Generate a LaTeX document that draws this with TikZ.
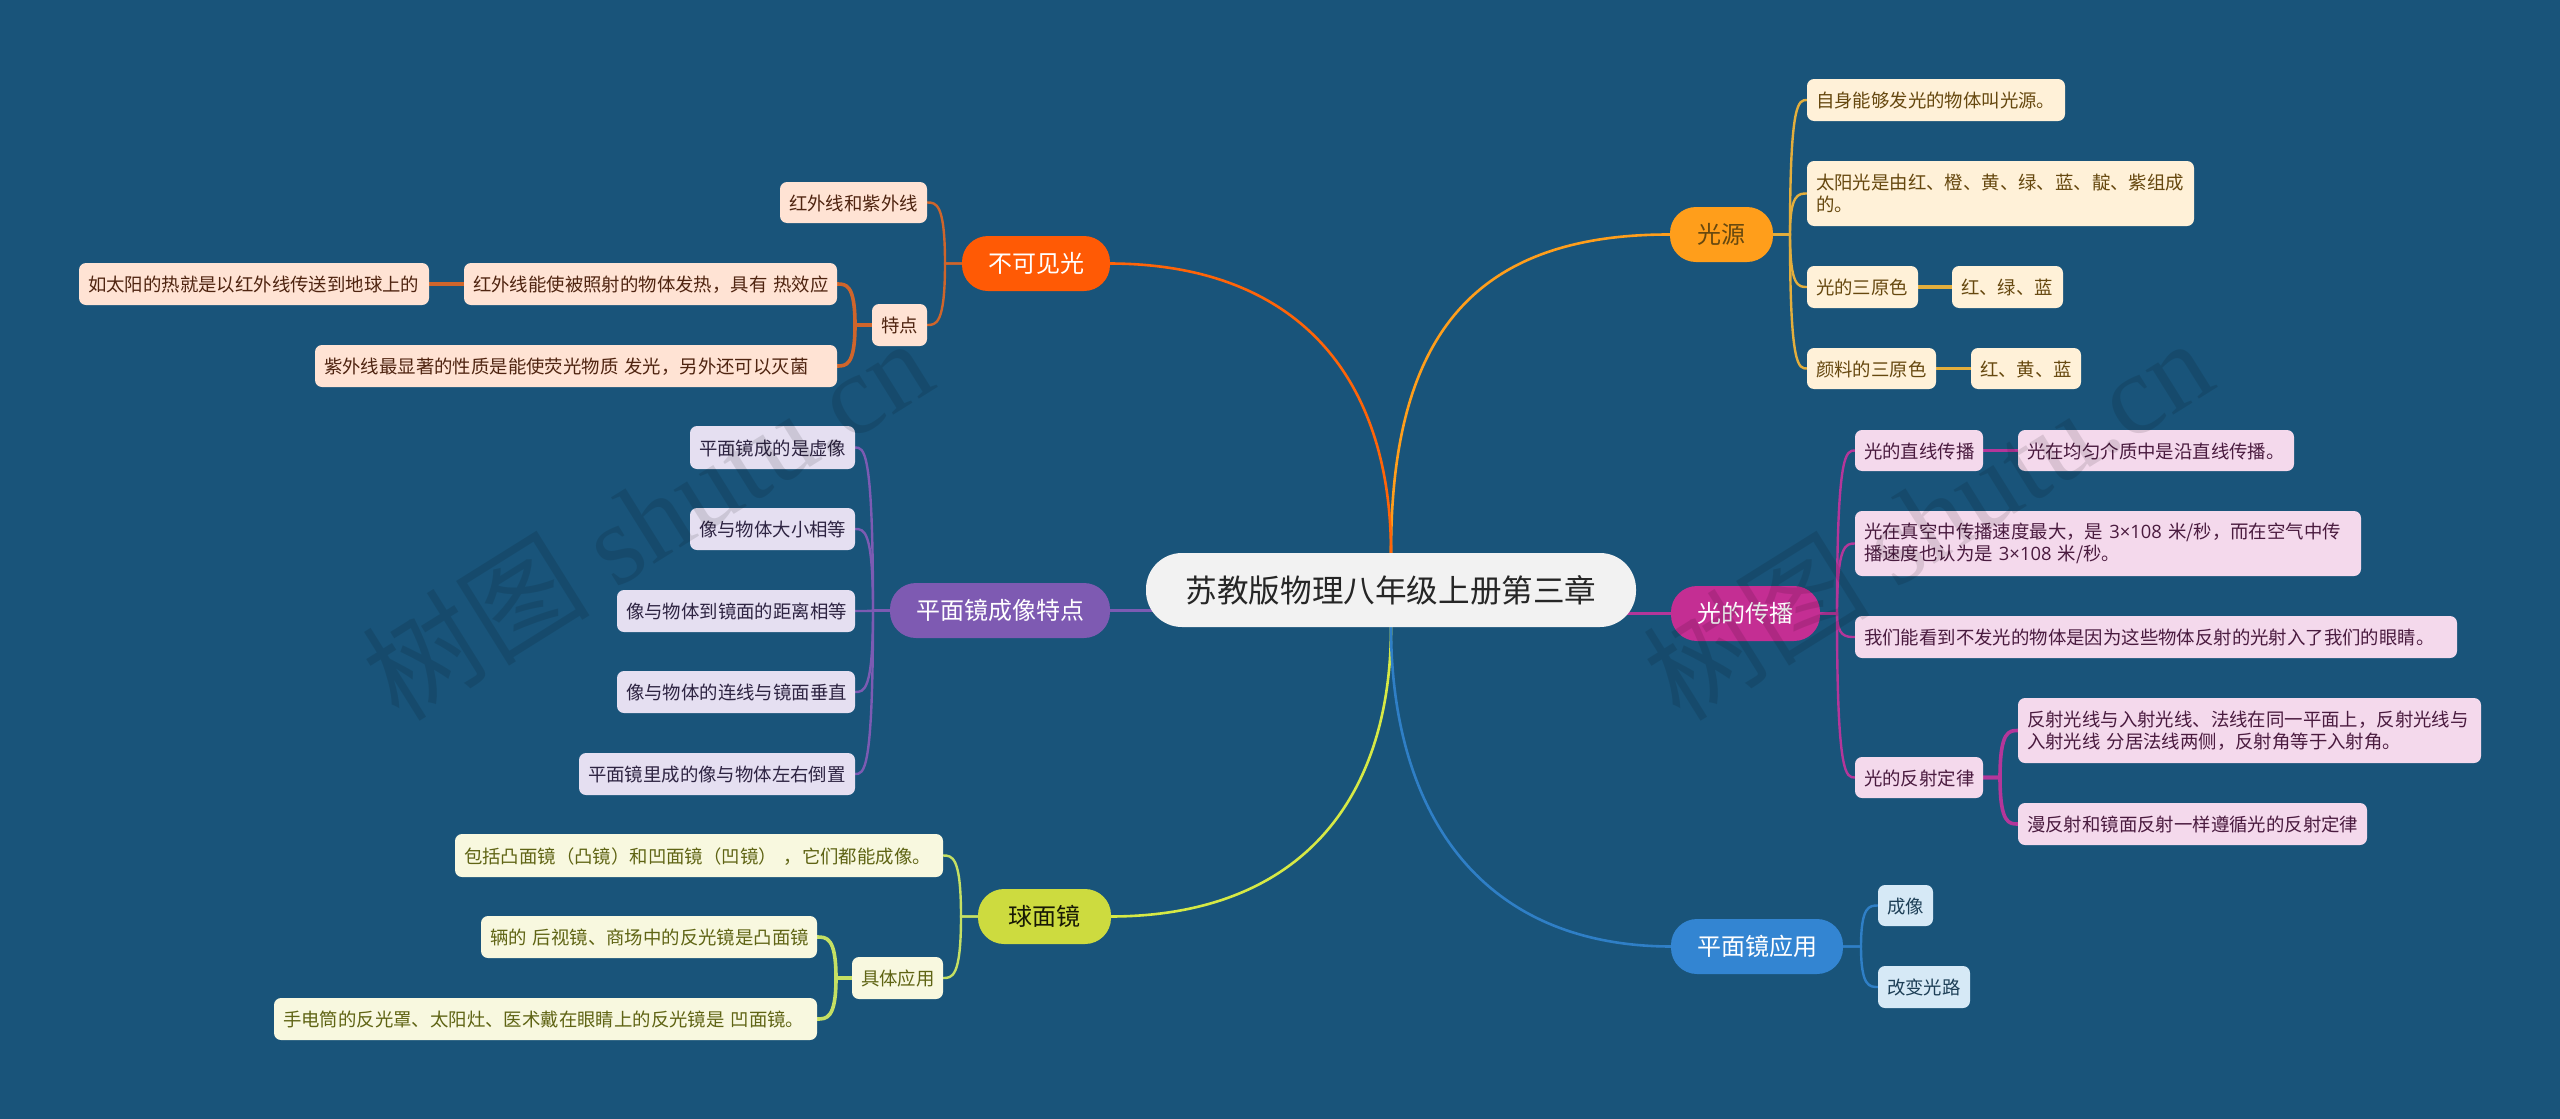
\documentclass[tikz,border=0pt]{standalone}
\usepackage{fontspec}
\setmainfont{Noto Sans CJK SC}
\newfontfamily\wmserif{Liberation Serif}
\newfontfamily\latinsans{Open Sans}
\usetikzlibrary{backgrounds,calc}
\definecolor{bgc}{HTML}{19547A}
\definecolor{oF}{HTML}{FFF1D8}\definecolor{oT}{HTML}{66480F}\definecolor{oL}{HTML}{E3AE3C}\definecolor{oB}{HTML}{FF9E1B}
\definecolor{pF}{HTML}{F4D9EC}\definecolor{pT}{HTML}{4A1B3F}\definecolor{pL}{HTML}{B4369A}\definecolor{pB}{HTML}{C42E93}
\definecolor{bF}{HTML}{D6E9F6}\definecolor{bT}{HTML}{1E3F57}\definecolor{bL}{HTML}{2F7FC6}\definecolor{bB}{HTML}{3385D2}
\definecolor{vF}{HTML}{E5DFF1}\definecolor{vT}{HTML}{2E2442}\definecolor{vL}{HTML}{7C5BB3}\definecolor{vB}{HTML}{7E5AB2}
\definecolor{rF}{HTML}{FFE3D4}\definecolor{rT}{HTML}{4F2410}\definecolor{rL}{HTML}{CF652B}\definecolor{rB}{HTML}{FF5A05}
\definecolor{yF}{HTML}{F8F8DF}\definecolor{yT}{HTML}{5F6414}\definecolor{yL}{HTML}{C5E063}\definecolor{yB}{HTML}{CDDB3F}
\tikzset{
 x=1pt,y=-1pt,
 boxbase/.style={inner xsep=0pt,inner ysep=0pt,outer sep=0pt,font=\fontsize{18.4}{24.5}\selectfont,align=left,execute at begin node={\vspace*{-3pt}}},
 leafO/.style={boxbase,fill=oF,text=oT},
 leafP/.style={boxbase,fill=pF,text=pT},
 leafB/.style={boxbase,fill=bF,text=bT},
 leafV/.style={boxbase,fill=vF,text=vT},
 leafR/.style={boxbase,fill=rF,text=rT},
 leafY/.style={boxbase,fill=yF,text=yT},
 branch/.style={rounded corners=26pt,inner sep=0pt,outer sep=0pt,font=\fontsize{24}{28}\selectfont,align=center},
 trunk/.style={line width=2.6pt},
 conn/.style={line width=2.4pt},
 thickconn/.style={line width=3.6pt},
 wmark/.style={text=black,opacity=0.11,rotate=32,inner sep=0pt},
}
% \lf{name}{x1}{y1}{x2}{y2}{style}{text}
\newcommand{\lf}[7]{%
 \pgfmathsetmacro\cxx{(#2+#4)/2}\pgfmathsetmacro\cyy{(#3+#5)/2}%
 \pgfmathsetmacro\ww{#4-#2}\pgfmathsetmacro\hh{#5-#3}\pgfmathsetmacro\tw{#4-#2-18}%
 \node[#6,rounded corners=7pt,minimum width=\ww pt,minimum height=\hh pt,text width=\tw pt,inner xsep=9pt] (#1) at (\cxx,\cyy) {#7};}
\newcommand{\br}[7]{%
 \pgfmathsetmacro\cxx{(#2+#4)/2}\pgfmathsetmacro\cyy{(#3+#5)/2}%
 \pgfmathsetmacro\ww{#4-#2}\pgfmathsetmacro\hh{#5-#3}%
 \node[branch,#6,minimum width=\ww pt,minimum height=\hh pt] (#1) at (\cxx,\cyy) {#7};}
% right-going and left-going links
\newcommand{\rlnk}[4]{\draw[#1] (#2.east) -- (#2.east -| #3) .. controls (#4.west -| #3) and ($(#4.west -| #3)!0.5!(#4.west)$) .. (#4.west);}
\newcommand{\llnk}[4]{\draw[#1] (#2.west) -- (#2.west -| #3) .. controls (#4.east -| #3) and ($(#4.east -| #3)!0.5!(#4.east)$) .. (#4.east);}
\begin{document}
\begin{tikzpicture}
\useasboundingbox (0,0) rectangle (2560,1119);
\begin{scope}[on background layer]
 \fill[bgc] (0,0) rectangle (2560,1119);
\end{scope}
\coordinate (jO) at (1790,0);
\coordinate (jP) at (1837,0);
\coordinate (jPs) at (2000,0);
\coordinate (jB) at (1861,0);
\coordinate (jV) at (873,0);
\coordinate (jR) at (945,0);
\coordinate (jRs) at (855,0);
\coordinate (jY) at (961,0);
\coordinate (jYs) at (836,0);
% title
\node[rounded corners=36pt,fill=white!95!black,text=black!85,inner sep=0pt,outer sep=0pt,minimum width=490pt,minimum height=74pt,font=\fontsize{31.6}{36}\selectfont] (title) at (1391,590) {苏教版物理八年级上册第三章};
% branches
\br{gy}{1670}{207}{1773}{262}{fill=oB,text=oT}{光源}
\br{gc}{1671}{586}{1820}{641}{fill=pB,text=white}{光的传播}
\br{my}{1671}{919}{1843}{974}{fill=bB,text=white}{平面镜应用}
\br{pm}{890}{583}{1110}{638}{fill=vB,text=white}{平面镜成像特点}
\br{bk}{962}{236}{1110}{291}{fill=rB,text=white}{不可见光}
\br{qm}{978}{889}{1111}{944}{fill=yB,text=black!75!yT}{球面镜}
% source leaves
\lf{o1}{1807}{79}{2065}{121}{leafO}{自身能够发光的物体叫光源。}
\lf{o2}{1807}{161}{2194}{226}{leafO}{太阳光是由红、橙、黄、绿、蓝、靛、紫组成\\的。}
\lf{o3}{1807}{266}{1918}{308}{leafO}{光的三原色}
\lf{o3a}{1952}{266}{2063}{308}{leafO}{红、绿、蓝}
\lf{o4}{1807}{348}{1936}{389}{leafO}{颜料的三原色}
\lf{o4a}{1971}{348}{2081}{389}{leafO}{红、黄、蓝}
% propagation leaves
\lf{p1}{1855}{430}{1983}{471}{leafP}{光的直线传播}
\lf{p1a}{2018}{430}{2294}{471}{leafP}{光在均匀介质中是沿直线传播。}
\lf{p2}{1855}{511}{2361}{576}{leafP}{\mbox{光在真空中传播速度最大，是 {\latinsans 3×108} 米/秒，而在空气中传}\\\mbox{播速度也认为是 {\latinsans 3×108} 米/秒。}}
\lf{p3}{1855}{616}{2457}{658}{leafP}{我们能看到不发光的物体是因为这些物体反射的光射入了我们的眼睛。}
\lf{p4}{1855}{757}{1983}{798}{leafP}{光的反射定律}
\lf{p4a}{2018}{698}{2481}{763}{leafP}{\mbox{反射光线与入射光线、法线在同一平面上，反射光线与}\\\mbox{入射光线 分居法线两侧，反射角等于入射角。}}
\lf{p4b}{2018}{803}{2367}{845}{leafP}{漫反射和镜面反射一样遵循光的反射定律}
% mirror use
\lf{b1}{1878}{885}{1933}{926}{leafB}{成像}
\lf{b2}{1878}{966}{1970}{1008}{leafB}{改变光路}
% plane mirror
\lf{v1}{690}{426}{855}{469}{leafV}{平面镜成的是虚像}
\lf{v2}{690}{508}{855}{550}{leafV}{像与物体大小相等}
\lf{v3}{617}{590}{855}{632}{leafV}{像与物体到镜面的距离相等}
\lf{v4}{617}{671}{855}{713}{leafV}{像与物体的连线与镜面垂直}
\lf{v5}{579}{753}{855}{795}{leafV}{平面镜里成的像与物体左右倒置}
% invisible light
\lf{r1}{780}{182}{927}{223}{leafR}{红外线和紫外线}
\lf{r2}{872}{304}{927}{346}{leafR}{特点}
\lf{r2a}{464}{263}{837}{305}{leafR}{\mbox{红外线能使被照射的物体发热，具有 热效应}}
\lf{r2aa}{79}{263}{429}{305}{leafR}{如太阳的热就是以红外线传送到地球上的}
\lf{r2b}{315}{345}{837}{387}{leafR}{\mbox{紫外线最显著的性质是能使荧光物质 发光，另外还可以灭菌}}
% spherical mirror
\lf{y1}{455}{834}{943}{877}{leafY}{\mbox{包括凸面镜（凸镜）和凹面镜（凹镜）\hspace{7pt}，它们都能成像。}}
\lf{y2}{852}{957}{943}{999}{leafY}{具体应用}
\lf{y2a}{481}{916}{817}{958}{leafY}{\mbox{辆的 后视镜、商场中的反光镜是凸面镜}}
\lf{y2b}{274}{998}{817}{1040}{leafY}{\mbox{手电筒的反光罩、太阳灶、医术戴在眼睛上的反光镜是 凹面镜。}}
% connectors
\begin{scope}[on background layer]
 \draw[trunk,color=oB] (title.center) -- (title.north) .. controls (1391,340) and (1470,234) .. (gy.west);
 \draw[trunk,color=rB!85!oB] (title.center) -- (title.north) .. controls (1391,380) and (1300,264) .. (bk.east);
 \draw[trunk,color=yL!70!yellow] (title.center) -- (title.south) .. controls (1391,800) and (1300,916) .. (qm.east);
 \draw[trunk,color=bL] (title.center) -- (title.south) .. controls (1391,800) and (1470,946) .. (my.west);
 \draw[thickconn,color=pL] (gc.west) -- (gc.west -| title.center);
 \draw[thickconn,color=vL] (pm.east) -- (pm.east -| title.center);
 \rlnk{conn,color=oL}{gy}{jO}{o1}
 \rlnk{conn,color=oL}{gy}{jO}{o2}
 \rlnk{conn,color=oL}{gy}{jO}{o3}
 \rlnk{conn,color=oL}{gy}{jO}{o4}
 \draw[thickconn,color=oL] (o3) -- (o3a);
 \draw[thickconn,color=oL] (o4) -- (o4a);
 \rlnk{conn,color=pL}{gc}{jP}{p1}
 \rlnk{conn,color=pL}{gc}{jP}{p2}
 \rlnk{conn,color=pL}{gc}{jP}{p3}
 \rlnk{conn,color=pL}{gc}{jP}{p4}
 \draw[thickconn,color=pL] (p1) -- (p1a);
 \rlnk{thickconn,color=pL}{p4}{jPs}{p4a}
 \rlnk{thickconn,color=pL}{p4}{jPs}{p4b}
 \rlnk{conn,color=bL}{my}{jB}{b1}
 \rlnk{conn,color=bL}{my}{jB}{b2}
 \llnk{conn,color=vL}{pm}{jV}{v1}
 \llnk{conn,color=vL}{pm}{jV}{v2}
 \llnk{conn,color=vL}{pm}{jV}{v3}
 \llnk{conn,color=vL}{pm}{jV}{v4}
 \llnk{conn,color=vL}{pm}{jV}{v5}
 \llnk{conn,color=rL}{bk}{jR}{r1}
 \llnk{conn,color=rL}{bk}{jR}{r2}
 \llnk{thickconn,color=rL}{r2}{jRs}{r2a}
 \llnk{thickconn,color=rL}{r2}{jRs}{r2b}
 \draw[thickconn,color=rL] (r2a) -- (r2aa);
 \llnk{conn,color=yL}{qm}{jY}{y1}
 \llnk{conn,color=yL}{qm}{jY}{y2}
 \llnk{thickconn,color=yL}{y2}{jYs}{y2a}
 \llnk{thickconn,color=yL}{y2}{jYs}{y2b}
\end{scope}
% watermarks
\node[wmark,font=\fontsize{114}{114}\selectfont] (wm1) at (647,518) {树图 {\wmserif shutu.cn}};
\node[wmark,font=\fontsize{114}{114}\selectfont] (wm2) at (1927,518) {树图 {\wmserif shutu.cn}};
\end{tikzpicture}
\end{document}
